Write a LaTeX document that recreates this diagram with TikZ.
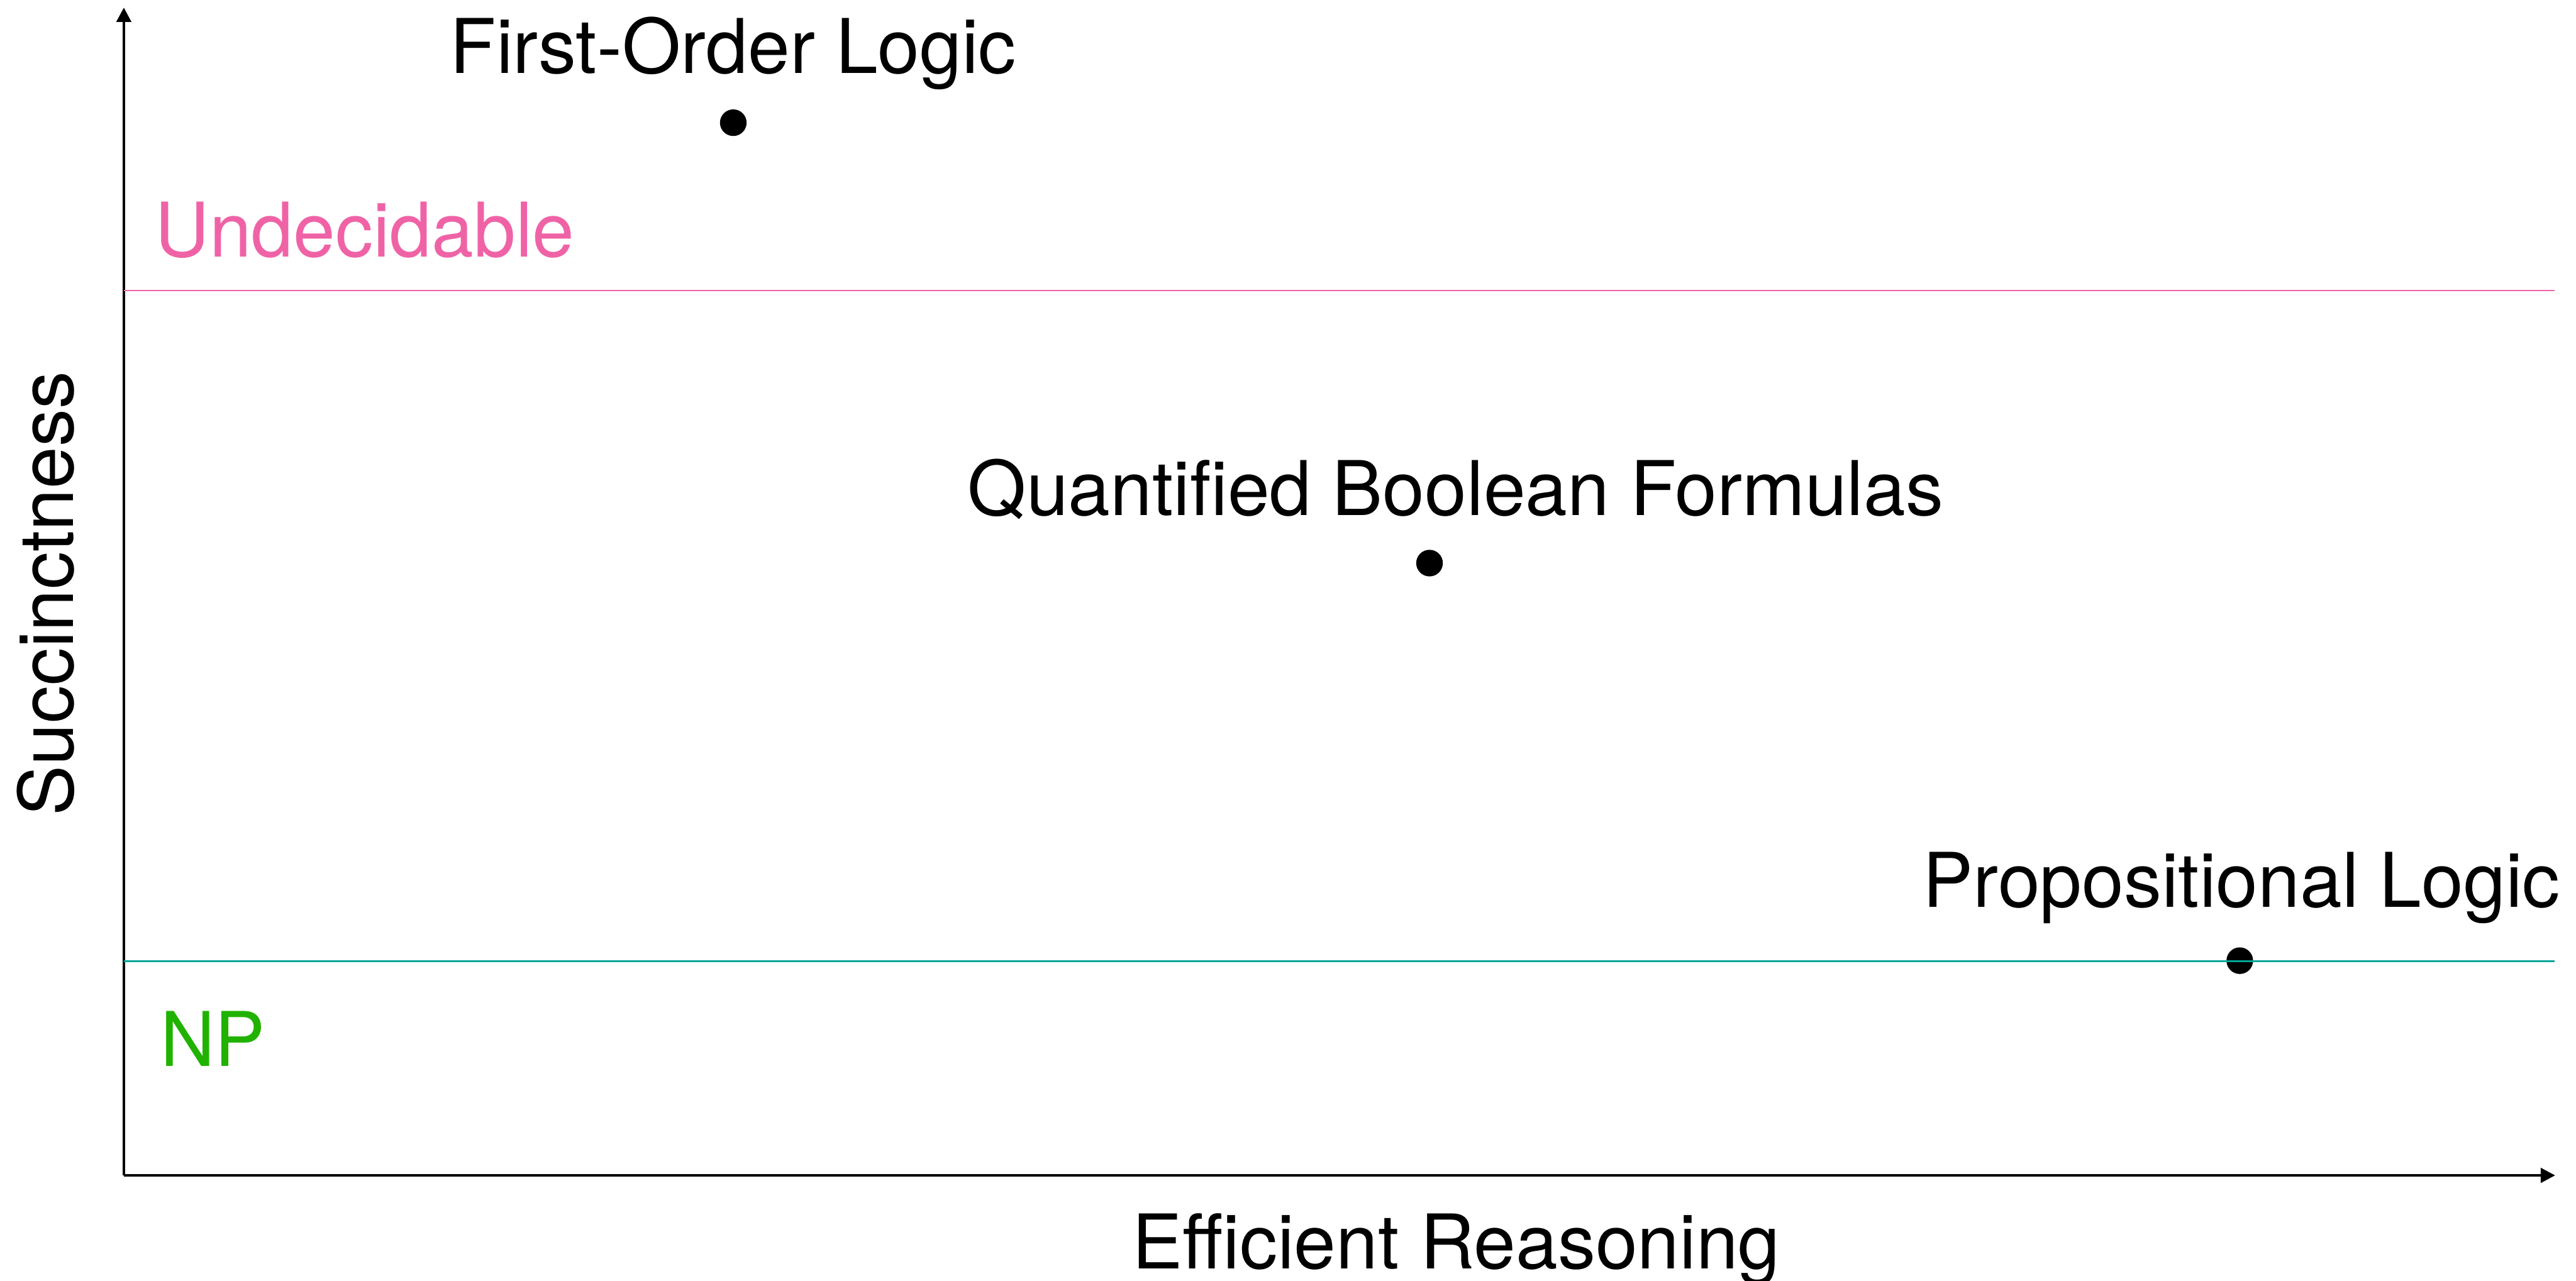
\documentclass[tikz,border=0pt]{standalone}
\usepackage{fontspec}
\setmainfont{TeX Gyre Heros}
\usetikzlibrary{arrows.meta}
\definecolor{undecpink}{RGB}{239,99,166}
\definecolor{nplinegreen}{RGB}{0,166,150}
\definecolor{nptextgreen}{RGB}{33,178,0}
\tikzset{every picture/.style={line width=0.75pt}}

\begin{document}
\begin{tikzpicture}[
    lbl/.style={font=\fontsize{37.1}{40}\selectfont, inner sep=0pt},
    logicdot/.style={circle, fill=black, inner sep=0pt, minimum size=4.6mm},
    axisline/.style={line width=1.45pt, -{Triangle[length=2.5mm, width=2.5mm]}}
]
    \useasboundingbox (0,0) rectangle (44.51,-22.13);
    % 坐标轴
    \coordinate (O) at (2.14,-20.31);
    \coordinate (ytip) at (2.14,-0.13);
    \coordinate (xtip) at (44.15,-20.31);
    \draw[axisline] (O) -- (ytip);
    \draw[axisline] (O) -- (xtip);
    \node[lbl, anchor=base] (xlab) at (25.16,-21.92) {Efficient Reasoning};
    \node[lbl, anchor=base, rotate=90] (ylab) at (1.27,-10.26) {Succinctness};
    % 三种逻辑
    \node[logicdot] (fol) at (12.67,-2.12) {};
    \node[lbl, anchor=base] (follab) at (12.67,-1.27) {First-Order Logic};
    \node[logicdot] (qbf) at (24.70,-9.73) {};
    \node[lbl, anchor=base] (qbflab) at (25.15,-8.90) {Quantified Boolean Formulas};
    \node[logicdot] (prop) at (38.70,-16.60) {};
    \node[lbl, anchor=base] (proplab) at (38.73,-15.68) {Propositional Logic};
    % 复杂度分界线
    \coordinate (undecL) at (2.14,-5.02);
    \coordinate (undecR) at (44.14,-5.02);
    \draw[undecpink] (undecL) -- (undecR);
    \node[lbl, text=undecpink, anchor=base west] (undec) at (2.67,-4.44) {Undecidable};
    \coordinate (npL) at (2.14,-16.61);
    \coordinate (npR) at (44.14,-16.61);
    \draw[nplinegreen] (npL) -- (npR);
    \node[lbl, text=nptextgreen, anchor=base west] (np) at (2.76,-18.42) {NP};
\end{tikzpicture}
\end{document}
